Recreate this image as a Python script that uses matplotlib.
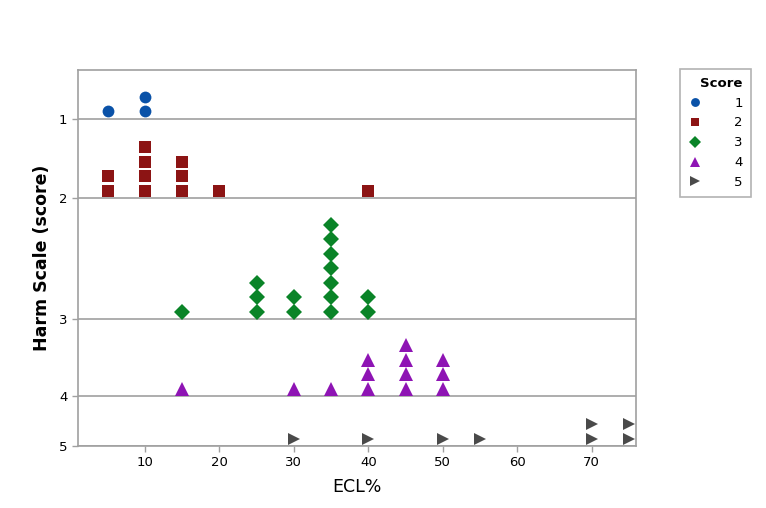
import matplotlib
matplotlib.use("Agg")
import matplotlib.pyplot as plt

# Data: ECL% values for each harm score, with count of observations at each value
scores = [1, 2, 3, 4, 5]
ecl_values = {
    1: [5, 10],
    2: [5, 10, 15, 20, 40],
    3: [15, 25, 30, 35, 40],
    4: [15, 30, 35, 40, 45, 50],
    5: [30, 40, 50, 55, 70, 75],
}
counts = {
    1: [1, 2],
    2: [2, 4, 3, 1, 1],
    3: [1, 3, 2, 7, 2],
    4: [1, 1, 1, 3, 4, 3],
    5: [1, 1, 1, 1, 2, 2],
}
x_ticks = [10, 20, 30, 40, 50, 60, 70]

# layout: band baselines (stack units), one per score
band_base = {1: 22.55, 2: 17.1, 3: 8.76, 4: 3.45, 5: 0.0}
styles = {
    1: dict(marker="o", color="#0A52A8", ms=8.5),
    2: dict(marker="s", color="#8C1414", ms=8.5),
    3: dict(marker="D", color="#0A8428", ms=8.3),
    4: dict(marker="^", color="#8E14B4", ms=10),
    5: dict(marker=">", color="#4A4A4A", ms=8.8),
}

fig = plt.figure(figsize=(7.66, 5.08), dpi=100)
ax = fig.add_axes([0.1018, 0.122, 0.728, 0.740])

for s in scores:
    xs, ys = [], []
    for x, c in zip(ecl_values[s], counts[s]):
        for k in range(c):
            xs.append(x)
            ys.append(band_base[s] + 0.5 + k)
    st = styles[s]
    ax.plot(xs, ys, linestyle="none", marker=st["marker"], color=st["color"],
            markersize=st["ms"], markeredgewidth=0, label=str(s))

ax.set_xlim(1.0, 75.9)
ax.set_ylim(0, 25.9)
ax.set_xticks(x_ticks)
ax.set_xticklabels([str(t) for t in x_ticks])
ax.set_yticks([band_base[s] for s in scores])
ax.set_yticklabels([str(s) for s in scores])
for s in scores:
    ax.axhline(band_base[s], color="#A0A0A0", lw=1.2, zorder=0)

for sp in ax.spines.values():
    sp.set_color("#A0A0A0")
    sp.set_linewidth(1.2)
ax.tick_params(axis="both", colors="#A0A0A0", labelcolor="black", labelsize=9.5,
               length=4, width=1)

ax.set_xlabel("ECL%", fontsize=12.5, labelpad=6)
ax.set_ylabel("Harm Scale (score)", fontsize=12.5, fontweight="bold", labelpad=6)

leg = ax.legend(title="Score", loc="upper left", bbox_to_anchor=(1.068, 1.021),
                frameon=True, fancybox=False, edgecolor="#A0A0A0",
                fontsize=9.5, title_fontproperties={"weight": "bold", "size": 9.5},
                handletextpad=2.5, labelspacing=0.52, borderpad=0.6,
                alignment="right", handlelength=1.0, markerscale=0.75)
leg.get_frame().set_linewidth(1.2)

fig.savefig("out.png", dpi=100)
